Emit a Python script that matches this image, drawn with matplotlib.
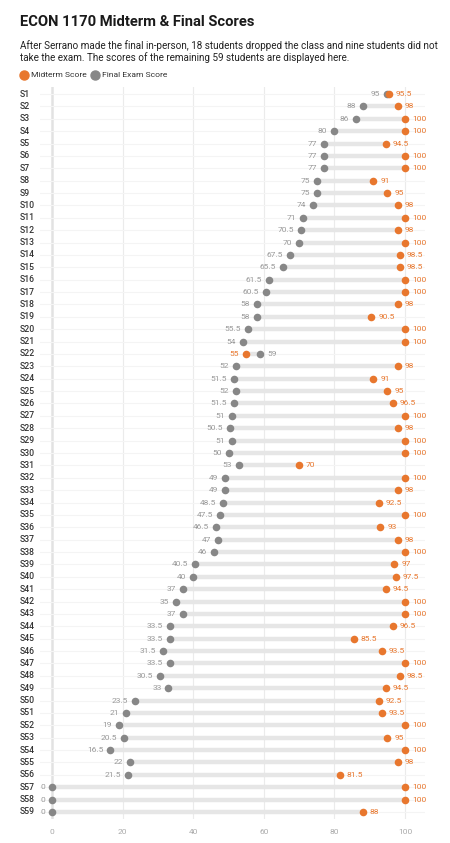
import matplotlib
matplotlib.use("Agg")
import matplotlib.pyplot as plt
from matplotlib.transforms import blended_transform_factory
from matplotlib.lines import Line2D

plt.rcParams['font.family'] = ['Roboto', 'DejaVu Sans']

students = [f"S{i}" for i in range(1, 60)]
final_scores = [95, 88, 86, 80, 77, 77, 77, 75, 75, 74, 71, 70.5, 70, 67.5, 65.5,
                61.5, 60.5, 58, 58, 55.5, 54, 59, 52, 51.5, 52, 51.5, 51, 50.5, 51, 50,
                53, 49, 49, 48.5, 47.5, 46.5, 47, 46, 40.5, 40, 37, 35, 37, 33.5, 33.5,
                31.5, 33.5, 30.5, 33, 23.5, 21, 19, 20.5, 16.5, 22, 21.5, 0, 0, 0]
midterm_scores = [95.5, 98, 100, 100, 94.5, 100, 100, 91, 95, 98, 100, 98, 100, 98.5, 98.5,
                  100, 100, 98, 90.5, 100, 100, 55, 98, 91, 95, 96.5, 100, 98, 100, 100,
                  70, 100, 98, 92.5, 100, 93, 98, 100, 97, 97.5, 94.5, 100, 100, 96.5, 85.5,
                  93.5, 100, 98.5, 94.5, 92.5, 93.5, 100, 95, 100, 98, 81.5, 100, 100, 88]
x_ticks = [0, 20, 40, 60, 80, 100]

ORANGE = "#E8772E"
GRAY = "#878787"
GRAY_TXT = "#999999"
BAR = "#E6E6E6"

W, H = 450, 843
fig = plt.figure(figsize=(W / 100, H / 100), dpi=100)
fig.patch.set_facecolor("white")

n = len(students)
row_h = (812 - 94) / (n - 1)
top_px = 94 - 0.6 * row_h
bot_px = 812 + 0.6 * row_h
left_px, right_px = 40, 425
ax = fig.add_axes([left_px / W, 1 - bot_px / H, (right_px - left_px) / W, (bot_px - top_px) / H])
x0 = (left_px - 52) / ((405 - 52) / 100)
x1 = (right_px - 52) / ((405 - 52) / 100)
ax.set_xlim(x0, x1)
ax.set_ylim(n - 1 + 0.6, -0.6)

for s in ax.spines.values():
    s.set_visible(False)
ax.set_yticks([])
ax.set_xticks(x_ticks)
ax.set_xticklabels([str(t) for t in x_ticks], color="#AAAAAA", fontsize=6.0)
ax.tick_params(axis='x', length=0, pad=7)

# grid
for t in x_ticks[1:]:
    ax.axvline(t, color="#EBEBEB", lw=0.8, zorder=0)
ax.axvline(0, color="#E2E2E2", lw=1.8, zorder=0)
for i in range(n):
    ax.axhline(i, color="#F4F4F4", lw=0.8, zorder=0)

LFS = 6.0
trans_lab = blended_transform_factory(fig.transFigure, ax.transData)
for i, (name, f, m) in enumerate(zip(students, final_scores, midterm_scores)):
    lo, hi = min(f, m), max(f, m)
    ax.plot([lo, hi], [i, i], color=BAR, lw=3.2, solid_capstyle='butt', zorder=1)
    ax.scatter([f], [i], s=30, color=GRAY, zorder=3, linewidths=0)
    ax.scatter([m], [i], s=30, color=ORANGE, zorder=3, linewidths=0)
    fs = f"{f:g}"
    ms = f"{m:g}"
    if m >= f:
        ax.annotate(fs, (f, i), xytext=(-5, 0), textcoords='offset points',
                    ha='right', va='center', fontsize=LFS, color=GRAY_TXT)
        ax.annotate(ms, (m, i), xytext=(5, 0), textcoords='offset points',
                    ha='left', va='center', fontsize=LFS, color=ORANGE)
    else:
        ax.annotate(ms, (m, i), xytext=(-5, 0), textcoords='offset points',
                    ha='right', va='center', fontsize=LFS, color=ORANGE)
        ax.annotate(fs, (f, i), xytext=(5, 0), textcoords='offset points',
                    ha='left', va='center', fontsize=LFS, color=GRAY_TXT)
    ax.text(20 / W, i, name, transform=trans_lab, ha='left', va='center',
            fontsize=6.2, color="#333333", fontweight='medium')

# title & subtitle
fig.text(20 / W, 1 - 22 / H, "ECON 1170 Midterm & Final Scores", ha='left', va='center',
         fontsize=10.6, fontweight='bold', color="#1a1a1a")
fig.text(20 / W, 1 - 46 / H,
         "After Serrano made the final in-person, 18 students dropped the class and nine students did not",
         ha='left', va='center', fontsize=7.15, color="#222222")
fig.text(20 / W, 1 - 58 / H,
         "take the exam. The scores of the remaining 59 students are displayed here.",
         ha='left', va='center', fontsize=7.15, color="#222222")

# legend
ly = 1 - 75 / H
fig.add_artist(Line2D([24 / W], [ly], marker='o', markersize=6.5, color=ORANGE, lw=0,
                      transform=fig.transFigure))
fig.text(31 / W, ly, "Midterm Score", ha='left', va='center', fontsize=6.1, color="#333333")
fig.add_artist(Line2D([95 / W], [ly], marker='o', markersize=6.5, color=GRAY, lw=0,
                      transform=fig.transFigure))
fig.text(102 / W, ly, "Final Exam Score", ha='left', va='center', fontsize=6.1, color="#333333")

fig.savefig("out.png", dpi=100, facecolor="white")
